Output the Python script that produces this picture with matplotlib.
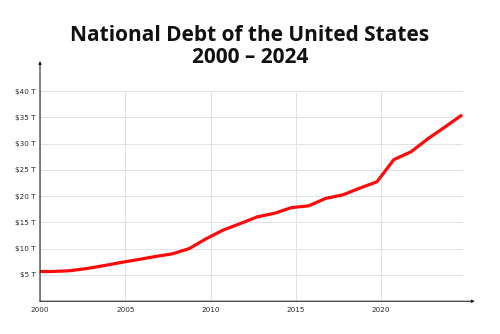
import matplotlib
matplotlib.use('Agg')
import numpy as np
import matplotlib.pyplot as plt

# US gross federal debt at fiscal year end (trillions of dollars)
fiscal_years = [1999, 2000, 2001, 2002, 2003, 2004, 2005, 2006, 2007, 2008,
                2009, 2010, 2011, 2012, 2013, 2014, 2015, 2016, 2017, 2018,
                2019, 2020, 2021, 2022, 2023, 2024]
debt = [5.66, 5.67, 5.81, 6.23, 6.78, 7.38, 7.93, 8.51, 9.01, 10.02,
        11.91, 13.56, 14.79, 16.07, 16.74, 17.82, 18.15, 19.57, 20.24, 21.52,
        22.72, 26.95, 28.43, 30.93, 33.17, 35.46]

x_ticks = [2000, 2005, 2010, 2015, 2020]
y_ticks = [5, 10, 15, 20, 25, 30, 35, 40]
y_labels = ['\\$%d T' % v for v in y_ticks]

# fiscal year ends on 30 September
x = np.array(fiscal_years) + 0.75

fig = plt.figure(figsize=(5.0, 3.34), dpi=100)
ax = fig.add_axes([0.08, 0.098, 0.846, 0.6295])

ax.plot(x, debt, color='#ff0a0a', lw=2.3, solid_joinstyle='round',
        solid_capstyle='butt', zorder=3)

ax.set_xlim(2000, 2024.8)
ax.set_ylim(0, 40)
ax.set_xticks(x_ticks)
ax.set_yticks(y_ticks)
ax.set_yticklabels(y_labels)
ax.tick_params(length=0, labelsize=5.2, colors='#2a2a2a', pad=3)
ax.tick_params(axis='x', pad=4)
ax.grid(color='#dde3ea', lw=0.7)
ax.set_axisbelow(True)
for s in ax.spines.values():
    s.set_visible(False)

# axis lines with arrow heads running past the plot area
arrow = dict(arrowstyle='-|>', color='#222222', lw=0.8, mutation_scale=4,
             shrinkA=0, shrinkB=0)
ax.annotate('', xy=(0, 1.143), xytext=(0, 0), xycoords='axes fraction',
            arrowprops=arrow, annotation_clip=False)
ax.annotate('', xy=(1.028, 0), xytext=(0, 0), xycoords='axes fraction',
            arrowprops=arrow, annotation_clip=False)

fig.text(0.5, 0.86, 'National Debt of the United States\n2000 \u2013 2024',
         ha='center', va='center', fontsize=15, fontweight='bold',
         family='Open Sans', linespacing=1.05, color='#111111')

fig.savefig('out.png', dpi=100, facecolor='white')
